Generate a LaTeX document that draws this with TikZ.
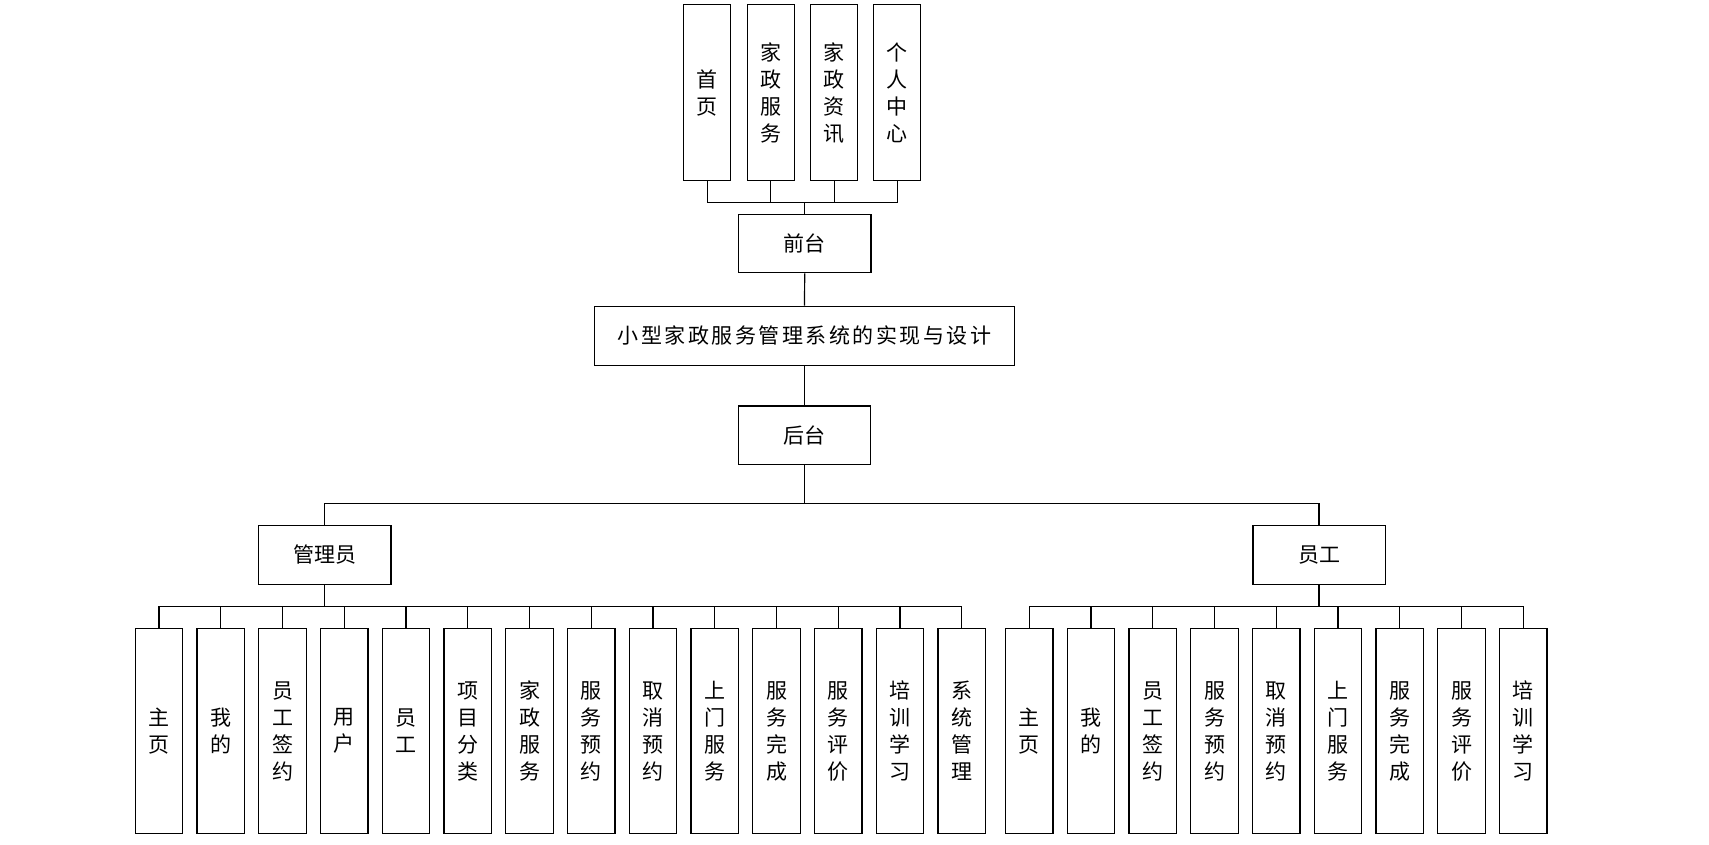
\documentclass[tikz,border=0pt]{standalone}
\usepackage{fontspec}
\newfontfamily\cjk{Noto Sans CJK SC}
\newfontfamily\cjkwide[LetterSpace=12]{Noto Sans CJK SC}
\begin{document}
\begin{tikzpicture}[x=1pt,y=-1pt,
  box/.style={draw,line width=1.3pt,inner sep=0pt,align=center,font=\cjk\fontsize{21}{27}\selectfont},
  tall/.style={box,minimum width=47pt,minimum height=176pt},
  kid/.style={box,minimum width=47.5pt,minimum height=205.4pt},
  mid/.style={box,minimum width=132.3pt,minimum height=58.5pt},
  link/.style={line width=1.2pt}]
\useasboundingbox (0,0) rectangle (1709,845);
% top
\node[tall] (t1) at (707.3,92.8) {首\\页};
\node[tall] (t2) at (770.8,92.8) {家\\政\\服\\务};
\node[tall] (t3) at (834.2,92.8) {家\\政\\资\\讯};
\node[tall] (t4) at (897.2,92.8) {个\\人\\中\\心};
\node[mid] (qt) at (804.7,243.5) {前台};
\node[box,minimum width=419.6pt,minimum height=59pt,font=\cjkwide\fontsize{21}{27}\selectfont] (main) at (804.5,335.8) {小型家政服务管理系统的实现与设计};
\node[mid] (ht) at (804.5,435.2) {后台};
\node[mid] (adm) at (324.8,555) {管理员};
\node[mid] (emp) at (1319,555) {员工};
% admin children
\foreach \t [count=\i from 0] in {{主\\页},{我\\的},{员\\工\\签\\约},{用\\户},{员\\工},{项\\目\\分\\类},{家\\政\\服\\务},{服\\务\\预\\约},{取\\消\\预\\约},{上\\门\\服\\务},{服\\务\\完\\成},{服\\务\\评\\价},{培\\训\\学\\习},{系\\统\\管\\理}}
  \node[kid] (a\i) at (159+61.75*\i,731) {\t};
% employee children
\foreach \t [count=\i from 0] in {{主\\页},{我\\的},{员\\工\\签\\约},{服\\务\\预\\约},{取\\消\\预\\约},{上\\门\\服\\务},{服\\务\\完\\成},{服\\务\\评\\价},{培\\训\\学\\习}}
  \node[kid] (e\i) at (1029.3+61.75*\i,731) {\t};
% connectors top
\coordinate (tb) at (804.7,202.7);
\draw[link] (t1.south) |- (tb) -| (t4.south);
\draw[link] (t2.south) -- (t2.south |- tb);
\draw[link] (t3.south) -- (t3.south |- tb);
\draw[link] (tb) -- (qt.north);
\draw[link] (qt.south) -- (main.north);
\draw[link] (main.south) -- (ht.north);
\coordinate (hb) at (804.5,503.3);
\draw[link] (ht.south) -- (hb);
\draw[link] (adm.north) |- (hb) -| (emp.north);
% admin bus
\coordinate (ab) at (324.8,606.3);
\draw[link] (a0.north) |- (ab) -| (a13.north);
\draw[link] (adm.south) -- (ab);
\foreach \i in {1,...,12} \draw[link] (a\i.north) -- (a\i.north |- ab);
% employee bus
\coordinate (eb) at (1319,606.3);
\draw[link] (e0.north) |- (eb) -| (e8.north);
\draw[link] (emp.south) -- (eb);
\foreach \i in {1,...,7} \draw[link] (e\i.north) -- (e\i.north |- eb);
\end{tikzpicture}
\end{document}
